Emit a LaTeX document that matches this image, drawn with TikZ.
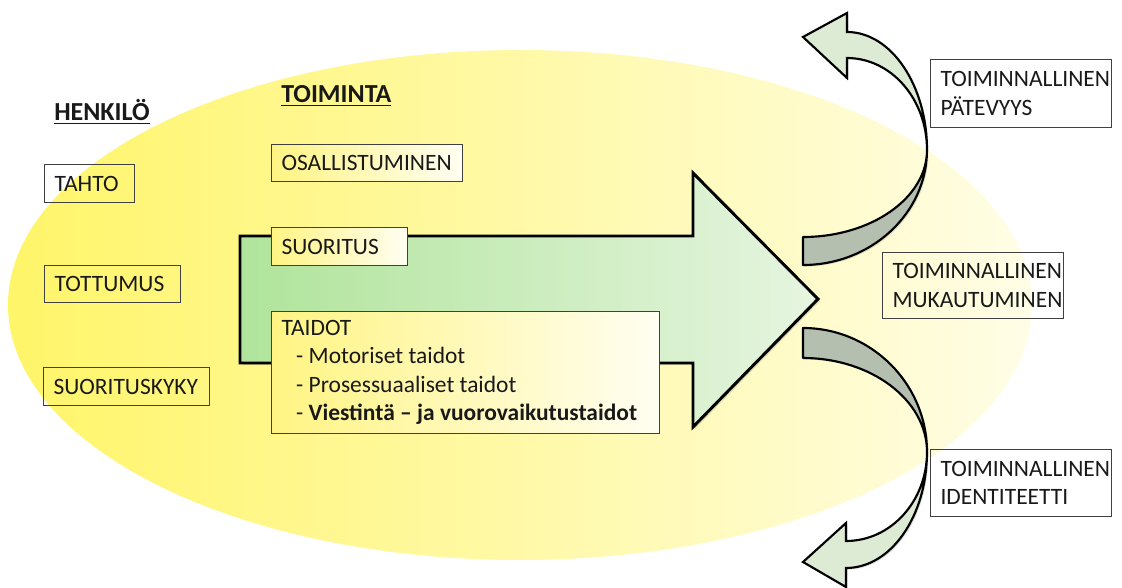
\documentclass[tikz,border=0pt]{standalone}
\usepackage{fontspec}
\setmainfont{Carlito}
\usetikzlibrary{shadows}
\definecolor{ellL}{RGB}{255,245,105}
\definecolor{ellR}{RGB}{255,253,230}
\definecolor{arrL}{RGB}{176,228,155}
\definecolor{arrR}{RGB}{230,245,224}
\definecolor{ribLight}{RGB}{221,235,213}
\definecolor{ribDark}{RGB}{180,191,176}
\definecolor{boxL}{RGB}{255,244,130}
\definecolor{boxR}{RGB}{255,254,242}
\definecolor{txt}{RGB}{25,25,25}
\newcommand{\fs}{\fontsize{17.6}{21.3}\selectfont}
\newcommand{\hfs}{\fontsize{19.5}{23}\selectfont}
\tikzset{
  plainbox/.style={draw=black!75, line width=0.8pt, anchor=north west, inner xsep=7.5pt, inner ysep=0pt, align=flush left, font=\fs, text=txt},
  fillbox/.style={plainbox, left color=boxL, right color=boxR},
  header/.style={anchor=base west, inner sep=0pt, font=\hfs\bfseries, text=txt},
  bigarrow/.style={draw=black, line width=2.2pt, line join=miter, left color=arrL, right color=arrR,
    drop shadow={opacity=0.25, shadow xshift=1.5pt, shadow yshift=-1.5pt}},
  ribdark/.style={draw=black, line width=1.6pt, line join=round, fill=ribDark,
    drop shadow={opacity=0.25, shadow xshift=1.2pt, shadow yshift=-1.2pt}},
  riblight/.style={draw=black, line width=1.6pt, line join=miter, fill=ribLight,
    drop shadow={opacity=0.25, shadow xshift=1.2pt, shadow yshift=-1.2pt}}
}
\begin{document}
\begin{tikzpicture}[x=0.75pt,y=-0.75pt]
\useasboundingbox (0,0) rectangle (1122,588);
% background ellipse
\shade[left color=ellL, right color=ellR] (520,305) ellipse [x radius=384pt, y radius=191.25pt];
% big arrow
\path[bigarrow] (240,236) -- (693,236) -- (693,173) -- (818,299) -- (693,427) -- (693,363) -- (240,363) -- cycle;
% upper curved arrow
\path[ribdark] (803,265) .. controls (871,265) and (927,213.5) .. (927,150)
   .. controls (927,198) and (871,237) .. (803,237) -- cycle;
\path[riblight] (927,150) .. controls (927,85) and (891,32) .. (847,32) -- (847,13) -- (803,37) -- (847,78) -- (847,58)
   .. controls (891,58) and (927,99) .. (927,150) -- cycle;
% lower curved arrow
\path[ribdark] (803,328) .. controls (871,328) and (927,383.5) .. (927,452)
   .. controls (927,400) and (871,358) .. (803,358) -- cycle;
\path[riblight] (927,452) .. controls (927,516) and (891,568) .. (846,568) -- (846,587) -- (803,562) -- (846,523) -- (846,541)
   .. controls (891,541) and (927,501) .. (927,452) -- cycle;
% headers
\node[header] (henkilo) at (54,121) {\underline{HENKILÖ}};
\node[header] (toiminta) at (281,103) {\underline{TOIMINTA}};
% left boxes
\node[plainbox, minimum height=28.5pt, text width=52.5pt] (tahto) at (44,164) {TAHTO};
\node[plainbox, minimum height=27.75pt, text width=87pt] (tottumus) at (44,265) {TOTTUMUS};
\node[plainbox, minimum height=28.5pt, text width=109.5pt] (suorituskyky) at (43,367) {SUORITUSKYKY};
% middle boxes
\node[fillbox, minimum height=27.75pt, text width=128.25pt] (osall) at (271,144) {OSALLISTUMINEN};
\node[fillbox, minimum height=28.5pt, text width=87pt] (suoritus) at (271,227) {SUORITUS};
\node[fillbox, minimum height=91.5pt, text width=276pt] (taidot) at (271,311)
  {TAIDOT\\\hspace*{11pt}- Motoriset taidot\\\hspace*{11pt}- Prosessuaaliset taidot\\\hspace*{11pt}- \textbf{Viestintä – ja vuorovaikutustaidot}};
% right boxes
\node[plainbox, minimum height=51pt, text width=120.75pt] (patevyys) at (930,59) {TOIMINNALLINEN\\PÄTEVYYS};
\node[plainbox, minimum height=49.5pt, text width=120.75pt] (mukautuminen) at (882,252) {TOIMINNALLINEN\\MUKAUTUMINEN};
\node[plainbox, minimum height=50.25pt, text width=120.75pt] (identiteetti) at (930,449) {TOIMINNALLINEN\\IDENTITEETTI};
\end{tikzpicture}
\end{document}
